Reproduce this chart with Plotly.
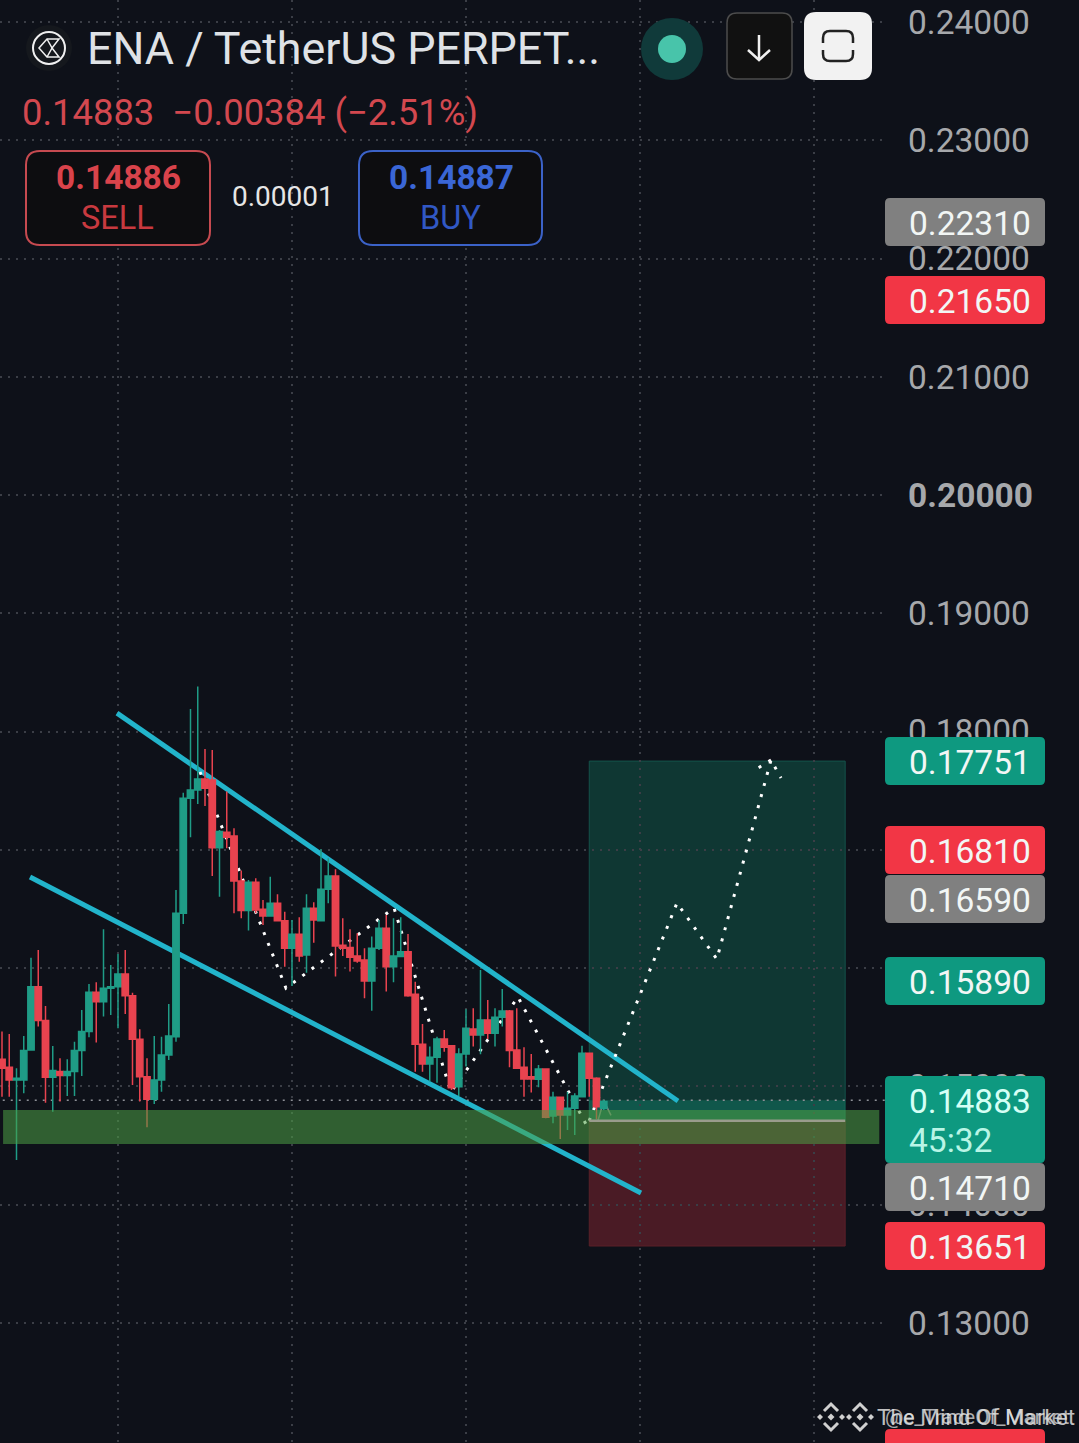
import plotly.graph_objects as go

W = 1079
H = 1443

# Candles
opens = [0.15230, 0.15162, 0.15055, 0.15055, 0.15309, 0.15844, 0.15557, 0.15078, 0.15126, 0.15092,
         0.15126, 0.15303, 0.15464, 0.15796, 0.15717, 0.15830, 0.15844, 0.15951, 0.15768, 0.15399,
         0.15083, 0.14892, 0.15055, 0.15266, 0.15421, 0.16464, 0.17437, 0.17507, 0.17600, 0.17592,
         0.17019, 0.17149, 0.17118, 0.16738, 0.16487, 0.16726, 0.16498, 0.16442, 0.16549, 0.16402,
         0.16168, 0.16286, 0.16112, 0.16506, 0.16402, 0.16667, 0.16780, 0.16193, 0.16174, 0.16103,
         0.16069, 0.15892, 0.16168, 0.16337, 0.16013, 0.16098, 0.16140, 0.15779, 0.15356, 0.15190,
         0.15246, 0.15401, 0.15345, 0.14998, 0.15275, 0.15486, 0.15435, 0.15562, 0.15449, 0.15585,
         0.15638, 0.15308, 0.15162, 0.15083, 0.15060, 0.15148, 0.14750, 0.14908, 0.14759, 0.14815,
         0.14914, 0.15280, 0.15069, 0.14815]
highs = [0.15464, 0.15444, 0.15154, 0.15427, 0.16089, 0.16154, 0.15681, 0.15342, 0.15238, 0.15230,
         0.15379, 0.15647, 0.15867, 0.15881, 0.16329, 0.16027, 0.16120, 0.16154, 0.15793, 0.15483,
         0.15238, 0.15427, 0.15421, 0.15698, 0.16661, 0.17484, 0.18192, 0.18381, 0.17854, 0.17845,
         0.17169, 0.17493, 0.17183, 0.16825, 0.16746, 0.16760, 0.16577, 0.16774, 0.16625, 0.16478,
         0.16408, 0.16430, 0.16625, 0.16557, 0.17005, 0.16929, 0.16836, 0.16422, 0.16329, 0.16295,
         0.16168, 0.16267, 0.16408, 0.16450, 0.16422, 0.16430, 0.16289, 0.15886, 0.15528, 0.15337,
         0.15421, 0.15478, 0.15345, 0.15323, 0.15652, 0.15661, 0.15985, 0.15731, 0.15661, 0.15824,
         0.15647, 0.15661, 0.15331, 0.15275, 0.15182, 0.15148, 0.14956, 0.14914, 0.14956, 0.14942,
         0.15345, 0.15280, 0.15077, 0.14886]
lows = [0.14914, 0.14914, 0.14379, 0.14942, 0.15303, 0.15506, 0.14863, 0.14787, 0.14872, 0.14920,
        0.14920, 0.15089, 0.15416, 0.15371, 0.15591, 0.15605, 0.15492, 0.15613, 0.15013, 0.14872,
        0.14655, 0.14852, 0.14956, 0.15224, 0.15379, 0.16374, 0.17107, 0.17389, 0.17372, 0.16780,
        0.16605, 0.17014, 0.16464, 0.16422, 0.16318, 0.16464, 0.16366, 0.16442, 0.16402, 0.16013,
        0.15850, 0.16055, 0.15962, 0.16216, 0.16402, 0.16549, 0.15929, 0.16103, 0.15971, 0.16047,
        0.15745, 0.15641, 0.16154, 0.15802, 0.15881, 0.16098, 0.15759, 0.15125, 0.15125, 0.15041,
        0.15032, 0.15294, 0.14970, 0.14920, 0.15168, 0.15337, 0.15272, 0.15401, 0.15337, 0.15506,
        0.15162, 0.15153, 0.14914, 0.14948, 0.14993, 0.14731, 0.14688, 0.14556, 0.14632, 0.14590,
        0.14914, 0.14914, 0.14722, 0.14801]
closes = [0.15154, 0.15055, 0.15069, 0.15303, 0.15844, 0.15557, 0.15078, 0.15134, 0.15092, 0.15126,
          0.15303, 0.15464, 0.15796, 0.15717, 0.15830, 0.15844, 0.15951, 0.15768, 0.15399, 0.15083,
          0.14892, 0.15055, 0.15266, 0.15427, 0.16464, 0.17437, 0.17507, 0.17600, 0.17521, 0.17019,
          0.17155, 0.17107, 0.16738, 0.16487, 0.16726, 0.16492, 0.16442, 0.16549, 0.16402, 0.16168,
          0.16286, 0.16103, 0.16506, 0.16408, 0.16667, 0.16780, 0.16188, 0.16168, 0.16092, 0.16061,
          0.15892, 0.16168, 0.16337, 0.16013, 0.16103, 0.16140, 0.15768, 0.15356, 0.15190, 0.15246,
          0.15401, 0.15331, 0.14990, 0.15275, 0.15492, 0.15435, 0.15562, 0.15449, 0.15585, 0.15638,
          0.15303, 0.15153, 0.15063, 0.15063, 0.15148, 0.14739, 0.14908, 0.14759, 0.14815, 0.14920,
          0.15280, 0.15069, 0.14829, 0.14872]
candle_index = list(range(len(opens)))

# Price axis, the 0.16 and 0.17 labels sit behind flags in the original
tick_values = [0.13, 0.14, 0.15, 0.16, 0.17, 0.18, 0.19, 0.20, 0.21, 0.22, 0.23, 0.24]
tick_labels = ["0.13000", "0.14000", "0.15000", "", "", "0.18000", "0.19000",
               "<b>0.20000</b>", "0.21000", "0.22000", "0.23000", "0.24000"]
time_ticks = [16, 40, 64, 88, 112]

# Drawings
upper_line_x = [15.86, 93.24]
upper_line_y = [0.18157, 0.14877]
lower_line_x = [3.86, 88.14]
lower_line_y = [0.16771, 0.14099]
path_x = [27.31, 39.17, 54.07, 61.93, 71.17, 80.69, 93.10, 98.6, 106.07, 107.45, None, 106.07, 104.28]
path_y = [0.17659, 0.15832, 0.16509, 0.14953, 0.15756, 0.14665, 0.16551, 0.16077, 0.17760, 0.17608, None, 0.17760, 0.17692]
marker_x = [82.2, 83.0, 84.0]
marker_y = [0.14710, 0.14880, 0.14755]

current_price = 0.14883
entry_price = 0.14710
target_price = 0.17751
stop_price = 0.13651
position_start = 81.0
position_end = 116.3
zone_top = 0.14800
zone_bottom = 0.14513

# Flags on the price scale: label, centre pixel, colour
flag_labels = ["0.22310", "0.21650", "0.17751", "0.16810", "0.16590", "0.15890", "0.14710", "0.13651"]
flag_centres = [222, 300, 761, 850, 899, 981, 1187, 1246]
flag_colors = ["#808080", "#f23645", "#0e9980", "#f23645", "#808080", "#0e9980", "#808080", "#f23645"]

BG = "#0e1119"
GREEN = "#1f9c86"
RED = "#e8434f"
CYAN = "#22b4cb"
GRID = "#3b3e46"
FONT = "Roboto"
PRICE_RANGE = [0.13 - 120 / 118.27 * 0.01, 0.13 + 1323 / 118.27 * 0.01]


def px(x):
    return x / W


def py(y):
    return 1 - y / H


def round_rect(x0, y0, x1, y1, r):
    # rounded rectangle path given in screen pixels
    pts = [
        f"M {px(x0 + r)} {py(y0)}", f"L {px(x1 - r)} {py(y0)}", f"Q {px(x1)} {py(y0)} {px(x1)} {py(y0 + r)}",
        f"L {px(x1)} {py(y1 - r)}", f"Q {px(x1)} {py(y1)} {px(x1 - r)} {py(y1)}",
        f"L {px(x0 + r)} {py(y1)}", f"Q {px(x0)} {py(y1)} {px(x0)} {py(y1 - r)}",
        f"L {px(x0)} {py(y0 + r)}", f"Q {px(x0)} {py(y0)} {px(x0 + r)} {py(y0)} Z",
    ]
    return " ".join(pts)


def poly(points, close=False):
    s = " ".join(("M" if i == 0 else "L") + f" {px(a)} {py(b)}" for i, (a, b) in enumerate(points))
    return s + (" Z" if close else "")


def ui_path(path, fill=None, line=None, width=0):
    return dict(type="path", xref="paper", yref="paper", path=path, fillcolor=fill or "rgba(0,0,0,0)",
                line=dict(color=line or "rgba(0,0,0,0)", width=width), layer="above")


def ui_circle(cx, cy, rad, fill=None, line=None, width=0):
    return dict(type="circle", xref="paper", yref="paper", x0=px(cx - rad), x1=px(cx + rad),
                y0=py(cy + rad), y1=py(cy - rad), fillcolor=fill or "rgba(0,0,0,0)",
                line=dict(color=line or "rgba(0,0,0,0)", width=width), layer="above")


def label(x, y, text, size, color, anchor="left"):
    return dict(xref="paper", yref="paper", x=px(x), y=py(y), text=text, showarrow=False, xanchor=anchor,
                yanchor="middle", font=dict(family=FONT, size=size, color=color))


def binance_logo(cx, cy):
    color = "#d0d0d0"
    out = []
    for dx, dy, r in [(0, 0, 3.5), (-11, 0, 3), (11, 0, 3)]:
        out.append(ui_path(poly([(cx + dx - r, cy + dy), (cx + dx, cy + dy - r), (cx + dx + r, cy + dy), (cx + dx, cy + dy + r)], True), fill=color))
    out.append(ui_path(poly([(cx - 7, cy - 6), (cx, cy - 13), (cx + 7, cy - 6)]), line=color, width=3))
    out.append(ui_path(poly([(cx - 7, cy + 6), (cx, cy + 13), (cx + 7, cy + 6)]), line=color, width=3))
    return out


fig = go.Figure()

# last price line
fig.add_trace(go.Scatter(x=[-1, 125], y=[current_price, current_price], mode="lines",
                         line=dict(color="#8d9096", width=1.5, dash="2px,6px"), showlegend=False))
fig.add_trace(go.Scatter(x=upper_line_x, y=upper_line_y, mode="lines",
                         line=dict(color=CYAN, width=5), showlegend=False))
fig.add_trace(go.Scatter(x=lower_line_x, y=lower_line_y, mode="lines",
                         line=dict(color=CYAN, width=5), showlegend=False))
fig.add_trace(go.Scatter(x=marker_x, y=marker_y, mode="lines",
                         line=dict(color="#7f8a80", width=1.5), showlegend=False))
fig.add_trace(go.Scatter(x=path_x, y=path_y, mode="lines",
                         line=dict(color="#ffffff", width=3, dash="3px,8.5px"), showlegend=False))
# candles go on an overlaid axis so they sit on top of the drawings
fig.add_trace(go.Candlestick(
    x=candle_index, open=opens, high=highs, low=lows, close=closes, yaxis="y2",
    increasing=dict(line=dict(color=GREEN, width=1.5), fillcolor=GREEN),
    decreasing=dict(line=dict(color=RED, width=1.5), fillcolor=RED),
    whiskerwidth=0, showlegend=False,
))

shapes = [
    # long position box
    dict(type="rect", xref="x", yref="y", x0=position_start, x1=position_end, y0=entry_price, y1=target_price,
         fillcolor="#0f3733", line=dict(color="#14524a", width=1), layer="below"),
    dict(type="rect", xref="x", yref="y", x0=position_start, x1=position_end, y0=stop_price, y1=entry_price,
         fillcolor="#4a1b25", line=dict(color="#5a2029", width=1), layer="below"),
    dict(type="rect", xref="x", yref="y", x0=position_start, x1=position_end, y0=entry_price, y1=current_price,
         fillcolor="rgba(20,150,120,0.35)", line=dict(width=0), layer="below"),
    # support zone
    dict(type="rect", xref="x", yref="y", x0=0.15, x1=121, y0=zone_bottom, y1=zone_top,
         fillcolor="rgba(76,160,70,0.55)", line=dict(width=0), layer="above"),
    dict(type="line", xref="x", yref="y", x0=position_start, x1=position_end, y0=entry_price, y1=entry_price,
         line=dict(color="#9a9c8c", width=2.5), layer="above"),
]

annotations = []

# flags
for text, centre, color in zip(flag_labels, flag_centres, flag_colors):
    shapes.append(ui_path(round_rect(885, centre - 24, 1045, centre + 24, 5), fill=color))
    annotations.append(label(907, centre + 1, text, 33.5, "#f2f6f5"))
shapes.append(ui_path(round_rect(885, 1076, 1045, 1163, 5), fill="#0e9980"))
annotations.append(label(907, 1101, "0.14883", 33.5, "#d5fff5"))
annotations.append(label(907, 1140, "45:32", 33.5, "#b9f5e6"))
shapes.append(ui_path(round_rect(885, 1429, 1045, 1450, 5), fill="#f23645"))

# header
shapes.append(ui_circle(49, 48, 23, fill="#15181d"))
shapes.append(ui_circle(49, 48, 16, line="#f0f0f0", width=2))
shapes.append(ui_path(poly([(39, 48), (47, 39), (59, 39), (52, 48), (59, 57), (47, 57)], True), line="#f0f0f0", width=1.5))
shapes.append(ui_path(poly([(47, 39), (52, 48), (47, 57)]), line="#f0f0f0", width=1.5))
annotations.append(label(85, 48, "ENA / TetherUS PERPET...", 44.8, "#dfe2e6"))
annotations.append(label(20, 113, "0.14883  −0.00384 (−2.51%)", 36.4, "#d3484f"))

shapes.append(ui_path(round_rect(26, 151, 210, 245, 14), fill="#0d0d10", line="#c64a50", width=2))
shapes.append(ui_path(round_rect(359, 151, 542, 245, 14), fill="#0d0d10", line="#3b62c8", width=2))
annotations.append(label(118, 178, "<b>0.14886</b>", 33.5, "#d9434b", "center"))
annotations.append(label(117, 218, "SELL", 32.5, "#c8393f", "center"))
annotations.append(label(283, 197, "0.00001", 28, "#e6e6e6", "center"))
annotations.append(label(451, 178, "<b>0.14887</b>", 33.5, "#3a66d6", "center"))
annotations.append(label(450, 218, "BUY", 32.5, "#3158c4", "center"))

# buttons
shapes.append(ui_circle(672, 49, 31, fill="#103a3a"))
shapes.append(ui_circle(672, 49, 14, fill="#48c4aa"))
shapes.append(ui_path(round_rect(727, 13, 792, 79, 10), fill="#111111", line="#4c4c4c", width=1.5))
shapes.append(ui_path(poly([(759, 35), (759, 60)]), line="#f0f0f0", width=2.5))
shapes.append(ui_path(poly([(748, 50), (759, 60), (770, 50)]), line="#f0f0f0", width=2.5))
shapes.append(ui_path(round_rect(804, 12, 872, 80, 12), fill="#f2f2f2"))
shapes.append(ui_path(f"M {px(823)} {py(43)} L {px(823)} {py(38)} Q {px(823)} {py(31)} {px(830)} {py(31)} L {px(846)} {py(31)} Q {px(853)} {py(31)} {px(853)} {py(38)} L {px(853)} {py(43)}", line="#222222", width=2.5))
shapes.append(ui_path(f"M {px(823)} {py(50)} L {px(823)} {py(54)} Q {px(823)} {py(61)} {px(830)} {py(61)} L {px(846)} {py(61)} Q {px(853)} {py(61)} {px(853)} {py(54)} L {px(853)} {py(50)}", line="#222222", width=2.5))

# watermark
shapes += binance_logo(831, 1417)
shapes += binance_logo(860, 1417)
annotations.append(label(875, 1417, "The Mind Of Market", 22.5, "rgba(225,225,225,0.85)"))
annotations.append(label(883, 1417, "@e_TradeOf_Market", 20.5, "rgba(225,225,225,0.75)"))

# pixel x = 2 + 7.25 * index, price 0.24 at y=22, 0.13 at y=1323
fig.update_layout(
    width=W, height=H, margin=dict(l=0, r=0, t=0, b=0),
    paper_bgcolor=BG, plot_bgcolor=BG, showlegend=False, shapes=shapes, annotations=annotations,
    boxgap=0.08, boxgroupgap=0.05,
    xaxis=dict(domain=[0, 885 / W], range=[-2 / 7.25, 883 / 7.25], tickvals=time_ticks, showticklabels=False,
               showgrid=True, gridcolor=GRID, griddash="2px,6px", gridwidth=1.5, zeroline=False,
               rangeslider=dict(visible=False), showline=False, ticks=""),
    yaxis=dict(side="right", range=PRICE_RANGE,
               tickvals=tick_values, ticktext=tick_labels, showgrid=True, gridcolor=GRID, griddash="2px,6px",
               gridwidth=1.5, zeroline=False, showline=False, ticks="", ticklabelstandoff=22,
               tickfont=dict(family=FONT, size=33.5, color="#a6a8ab")),
    yaxis2=dict(overlaying="y", side="right", range=PRICE_RANGE, showgrid=False, zeroline=False,
                showticklabels=False, showline=False, ticks=""),
)

fig.write_html("out.html", config=dict(displayModeBar=False),
               post_script="document.body.style.margin='0';document.body.style.background='%s';" % BG)
